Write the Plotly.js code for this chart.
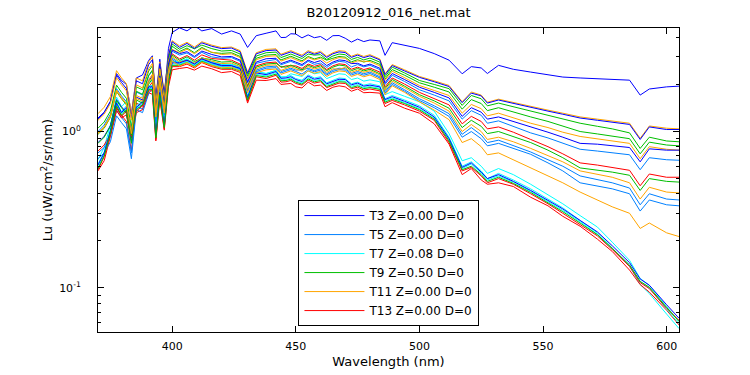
<!DOCTYPE html>
<html><head><meta charset="utf-8">
<script src="https://cdn.plot.ly/plotly-3.0.1.min.js"></script>
<style>html,body{margin:0;padding:0;background:#fff;} #chart{width:750px;height:375px;}</style>
</head><body><div id="chart"></div>
<script>
// Wavelength grid (nm)
const wavelength = [370,372.5,375,377.5,379.5,381.5,383.5,385.5,388,390.5,392,393.4,395,396.8,398.5,400,403,406,409,412,416,420,424,427.5,430.5,434,438,
  442,444,446,448,450,452.5,455,457.5,460,462.5,465,467.5,470,472.5,475,477.5,480,
  484,486.1,489,494,500,506,512,517.3,521,525,527.5,532,538,545,552,558,565,572,578,585,589.3,593,600,605];

// Lu spectra (uW/cm^2/sr/nm)
const T3  = [1.2,1.32,1.55,2.35,2.12,2.0,1.3,2.2,2.3,2.85,3.05,1.45,2.9,1.6,3.4,4.3,4.6,4.4,4.75,4.4,4.55,4.2,4.4,4.2,3.45,4.1,4.25,
  4.4,3.99,4.0,4.22,4.2,3.97,4.15,3.98,4.05,3.83,4.1,4.11,3.95,3.73,3.9,3.76,3.85,
  3.8,3.07,3.7,3.55,3.4,3.15,2.86,2.34,2.6,2.55,2.35,2.65,2.5,2.4,2.32,2.23,2.2,2.17,2.15,2.13,1.71,1.87,1.93,1.95];
const T5  = [1.0,1.10,1.29,1.88,1.69,1.55,1.0,1.79,1.71,2.27,2.44,1.39,2.33,1.51,2.65,3.26,3.08,3.18,2.97,3.21,3.0,2.94,2.97,2.81,2.04,2.73,2.82,
  2.89,2.67,2.73,2.81,2.73,2.63,2.81,2.69,2.74,2.57,2.73,2.81,2.78,2.59,2.68,2.59,2.65,
  2.49,2.0,2.29,2.09,1.85,1.71,1.57,1.20,1.36,1.27,1.13,1.17,1.08,0.98,0.91,0.84,0.77,0.75,0.73,0.71,0.57,0.68,0.66,0.655];
const T7  = [0.66,0.79,1.10,1.66,1.44,1.56,1.08,1.56,1.68,2.1,2.1,1.03,1.94,1.2,2.18,2.8,2.8,2.91,2.74,2.97,2.8,2.69,2.69,2.58,1.68,2.41,2.35,
  2.46,2.23,2.24,2.34,2.3,2.25,2.44,2.34,2.38,2.18,2.26,2.34,2.32,2.15,2.2,2.10,2.14,
  2.08,1.72,1.8,1.68,1.55,1.35,0.97,0.65,0.68,0.60,0.54,0.58,0.53,0.46,0.395,0.345,0.29,0.245,0.196,0.150,0.115,0.104,0.076,0.061];
const T9  = [1.05,1.15,1.35,1.98,1.78,1.63,1.05,1.93,1.85,2.44,2.63,1.53,2.55,1.65,2.95,3.63,3.36,3.54,3.38,3.57,3.39,3.27,3.30,3.13,2.27,3.04,3.19,
  3.22,2.97,3.04,3.13,3.04,2.93,3.13,3.08,3.10,2.89,3.04,3.13,3.10,2.89,2.98,2.87,2.95,
  2.78,2.24,2.58,2.37,2.12,2.0,1.88,1.47,1.70,1.62,1.46,1.52,1.44,1.34,1.27,1.20,1.13,1.08,1.04,0.98,0.78,0.92,0.87,0.86];
const T11 = [1.30,1.43,1.67,2.45,2.20,2.02,1.30,2.20,2.11,2.79,3.0,1.67,2.79,1.77,3.1,3.81,3.53,3.72,3.47,3.75,3.57,3.44,3.47,3.29,2.39,3.19,3.35,
  3.38,3.12,3.19,3.29,3.19,3.08,3.29,3.17,3.26,3.03,3.19,3.29,3.26,3.03,3.13,3.02,3.1,
  2.91,2.34,2.68,2.48,2.25,2.11,1.97,1.55,1.79,1.71,1.54,1.61,1.53,1.44,1.37,1.31,1.24,1.20,1.17,1.13,0.905,1.085,1.05,1.04];
const T13 = [0.75,0.82,0.96,1.41,1.27,1.16,0.75,1.52,1.45,1.92,2.07,1.26,2.10,1.39,2.55,3.14,2.91,3.06,2.86,3.09,2.93,2.9,2.86,2.70,1.96,2.63,2.75,
  2.78,2.57,2.63,2.62,2.63,2.53,2.70,2.61,2.68,2.49,2.63,2.71,2.68,2.50,2.58,2.49,2.55,
  2.40,1.93,2.20,2.01,1.78,1.63,1.48,1.12,1.25,1.16,1.04,1.07,0.99,0.89,0.80,0.72,0.63,0.61,0.59,0.565,0.45,0.535,0.51,0.51];
const T15 = [1.22,1.33,1.56,2.29,2.06,1.88,1.22,2.11,2.02,2.68,2.88,1.63,2.72,1.74,3.05,3.75,3.45,3.66,3.40,3.69,3.51,3.39,3.42,3.23,2.35,3.14,3.29,
  3.32,3.07,3.14,3.23,3.14,3.02,3.23,3.12,3.20,2.98,3.14,3.23,3.20,2.98,3.08,2.97,3.05,
  2.87,2.31,2.64,2.44,2.22,2.08,1.94,1.53,1.76,1.69,1.52,1.59,1.51,1.42,1.35,1.29,1.22,1.18,1.15,1.11,0.89,1.07,1.03,1.03];
const T17 = [0.73,0.79,0.93,1.37,1.23,1.12,0.73,1.45,1.39,1.84,1.98,1.19,1.99,1.31,2.4,2.95,2.74,2.88,2.69,2.90,2.76,2.66,2.62,2.54,1.85,2.47,2.59,
  2.62,2.42,2.47,2.54,2.47,2.48,2.54,2.45,2.52,2.34,2.47,2.54,2.52,2.35,2.42,2.34,2.4,
  2.24,1.80,2.05,1.85,1.62,1.46,1.30,0.96,1.06,0.95,0.85,0.88,0.81,0.74,0.66,0.60,0.52,0.49,0.47,0.435,0.34,0.40,0.37,0.365];
const T19 = [0.62,0.74,1.03,1.55,1.34,1.46,1.01,1.46,1.57,1.96,1.96,0.96,1.81,1.12,2.18,2.8,2.8,2.91,2.74,2.97,2.8,2.69,2.69,2.58,1.68,2.41,2.35,
  2.46,2.23,2.24,2.28,2.18,2.13,2.3,2.20,2.24,2.05,2.13,2.20,2.18,2.02,2.07,1.98,2.02,
  1.96,1.62,1.70,1.59,1.46,1.27,0.92,0.60,0.64,0.56,0.50,0.54,0.49,0.43,0.37,0.325,0.27,0.225,0.18,0.138,0.105,0.092,0.068,0.055];
const T21 = [0.96,1.05,1.23,1.80,1.62,1.48,0.96,1.81,1.73,2.29,2.47,1.46,2.43,1.58,2.85,3.51,3.25,3.42,3.19,3.45,3.2,3.16,3.19,3.02,2.19,2.94,3.08,
  3.11,2.87,2.94,3.03,2.94,2.83,3.02,2.91,2.99,2.86,2.94,3.02,2.99,2.79,2.88,2.78,2.85,
  2.69,2.17,2.49,2.29,2.05,1.92,1.79,1.39,1.60,1.51,1.36,1.42,1.33,1.24,1.16,1.08,1.0,0.965,0.935,0.90,0.72,0.855,0.82,0.81];
const T23 = [1.18,1.29,1.51,2.21,1.99,1.82,1.18,1.99,1.90,2.52,2.72,1.51,2.52,1.60,2.8,3.35,3.19,3.36,3.14,3.39,3.22,3.11,3.14,2.97,2.16,2.88,3.02,
  3.05,2.82,2.88,2.97,2.88,2.78,2.97,2.87,2.94,2.74,2.88,2.97,2.94,2.74,2.83,2.8,2.8,
  2.63,2.12,2.43,2.22,1.97,1.83,1.70,1.31,1.49,1.40,1.26,1.31,1.22,1.13,1.06,0.99,0.93,0.90,0.87,0.84,0.67,0.80,0.77,0.76];
const T25 = [0.56,0.65,0.93,1.36,1.22,1.28,0.91,1.32,1.38,1.77,1.73,0.87,1.6,1.02,1.93,2.48,2.53,2.57,2.47,2.62,2.52,2.38,2.42,2.28,1.52,2.13,2.12,
  2.18,2.0,2.02,2.03,1.93,1.90,2.07,1.96,1.98,1.83,1.92,1.96,1.93,1.81,1.87,1.77,1.78,
  1.76,1.44,1.53,1.41,1.31,1.12,0.83,0.53,0.58,0.49,0.46,0.47,0.445,0.38,0.335,0.287,0.248,0.205,0.171,0.13,0.105,0.094,0.072,0.058];
const T27 = [0.85,0.93,1.09,1.60,1.44,1.32,0.85,1.66,1.59,2.10,2.27,1.36,2.26,1.48,2.7,3.32,3.15,3.24,3.02,3.27,3.11,3.0,3.02,2.86,2.08,2.78,2.92,
  2.94,2.72,2.78,2.86,2.78,2.68,2.86,2.76,2.84,2.64,2.78,2.87,2.84,2.72,2.73,2.63,2.7,
  2.54,2.05,2.35,2.15,1.92,1.78,1.64,1.25,1.42,1.33,1.20,1.24,1.16,1.08,0.99,0.92,0.84,0.83,0.81,0.79,0.64,0.775,0.76,0.76];
const T29 = [0.67,0.73,0.86,1.26,1.14,1.04,0.67,1.38,1.32,1.75,1.88,1.16,1.93,1.28,2.35,2.89,2.68,2.82,2.63,2.84,2.70,2.61,2.63,2.49,1.81,2.42,2.54,
  2.56,2.37,2.42,2.49,2.42,2.33,2.49,2.41,2.47,2.30,2.42,2.49,2.47,2.30,2.37,2.29,2.35,
  2.20,1.76,2.0,1.81,1.58,1.42,1.25,0.92,1.0,0.90,0.81,0.84,0.78,0.715,0.63,0.56,0.47,0.45,0.43,0.40,0.31,0.365,0.34,0.335];
const T31 = [0.59,0.71,0.99,1.49,1.30,1.40,0.97,1.40,1.51,1.89,1.89,0.93,1.75,1.08,2.1,2.7,2.7,2.81,2.65,2.86,2.7,2.59,2.59,2.48,1.62,2.32,2.27,
  2.38,2.16,2.16,2.19,2.1,2.05,2.21,2.12,2.16,1.98,2.05,2.12,2.1,1.95,2.0,1.91,1.94,
  1.89,1.57,1.64,1.53,1.40,1.22,0.89,0.58,0.62,0.54,0.49,0.52,0.475,0.415,0.356,0.313,0.265,0.22,0.178,0.14,0.11,0.1,0.073,0.059];
const T33 = [0.84,0.92,1.08,1.58,1.42,1.30,0.84,1.59,1.52,2.01,2.17,1.28,2.13,1.39,2.5,3.08,2.85,3.0,2.8,2.95,2.88,2.78,2.8,2.65,1.93,2.58,2.7,
  2.73,2.6,2.58,2.66,2.58,2.48,2.65,2.56,2.63,2.45,2.58,2.66,2.63,2.45,2.53,2.44,2.5,
  2.34,1.88,2.15,1.95,1.72,1.57,1.41,1.06,1.18,1.08,0.97,1.0,0.93,0.85,0.76,0.68,0.585,0.565,0.55,0.525,0.42,0.50,0.48,0.475];
const T35 = [0.98,1.07,1.26,1.84,1.65,1.51,0.98,1.70,1.63,2.15,2.32,1.32,2.21,1.40,2.45,3.01,2.79,2.85,2.74,2.96,2.82,2.72,2.74,2.60,1.89,2.52,2.65,
  2.67,2.46,2.52,2.60,2.52,2.43,2.60,2.51,2.57,2.39,2.52,2.5,2.57,2.39,2.47,2.39,2.45,
  2.30,1.84,2.10,1.91,1.68,1.52,1.35,1.0,1.11,1.0,0.89,0.92,0.86,0.78,0.70,0.64,0.56,0.53,0.51,0.47,0.37,0.44,0.41,0.405];
const T37 = [0.57,0.69,0.96,1.43,1.25,1.35,0.94,1.35,1.46,1.82,1.82,0.89,1.68,1.04,2.03,2.6,2.6,2.7,2.55,2.76,2.6,2.5,2.5,2.39,1.56,2.24,2.18,
  2.29,2.07,2.08,2.12,2.03,1.98,2.13,2.04,2.08,1.91,1.98,2.04,2.03,1.88,1.92,1.84,1.87,
  1.82,1.51,1.58,1.48,1.35,1.18,0.85,0.56,0.59,0.52,0.47,0.5,0.46,0.40,0.345,0.30,0.255,0.215,0.176,0.137,0.108,0.099,0.074,0.062];
const T39 = [0.61,0.73,1.01,1.52,1.32,1.43,0.99,1.43,1.54,1.93,1.93,0.95,1.78,1.1,2.15,2.75,2.75,2.86,2.7,2.92,2.75,2.64,2.64,2.53,1.65,2.37,2.31,
  2.42,2.19,2.2,2.24,2.15,2.09,2.26,2.16,2.2,2.02,2.09,2.16,2.15,1.99,2.04,1.95,1.98,
  1.93,1.6,1.67,1.56,1.43,1.24,0.9,0.59,0.63,0.55,0.5,0.53,0.48,0.42,0.363,0.32,0.27,0.228,0.186,0.145,0.114,0.104,0.078,0.064];
const T41 = [0.58,0.70,0.98,1.46,1.27,1.38,0.95,1.38,1.48,1.86,1.86,0.91,1.72,1.06,2.07,2.65,2.65,2.76,2.6,2.81,2.65,2.54,2.54,2.44,1.59,2.28,2.23,
  2.33,2.11,2.12,2.16,2.07,2.01,2.17,2.08,2.12,1.94,2.01,2.08,2.07,1.91,1.96,1.88,1.91,
  1.86,1.54,1.61,1.51,1.38,1.20,0.87,0.57,0.60,0.53,0.48,0.51,0.466,0.408,0.35,0.307,0.26,0.219,0.179,0.14,0.11,0.101,0.075,0.061];
const T43 = [0.97,1.06,1.24,1.82,1.63,1.50,0.97,1.63,1.56,2.07,2.23,1.24,2.07,1.31,2.3,2.83,2.62,2.76,2.58,2.78,2.65,2.55,2.58,2.44,1.77,2.37,2.48,
  2.51,2.32,2.37,2.44,2.37,2.28,2.44,2.36,2.42,2.25,2.37,2.44,2.42,2.25,2.32,2.24,2.3,
  2.15,1.72,1.96,1.78,1.55,1.37,1.19,0.85,0.90,0.80,0.71,0.73,0.66,0.59,0.52,0.47,0.41,0.365,0.33,0.30,0.24,0.26,0.225,0.213];

const seriesData = [T3,T5,T7,T9,T11,T13,T15,T17,T19,T21,T23,T25,T27,T29,T31,T33,T35,T37,T39,T41,T43];
const seriesNames = ['T3','T5','T7','T9','T11','T13','T15','T17','T19','T21','T23','T25','T27','T29','T31','T33','T35','T37','T39','T41','T43'];
const legendLabels = ['T3 Z=0.00 D=0','T5 Z=0.00 D=0','T7 Z=0.08 D=0','T9 Z=0.50 D=0','T11 Z=0.00 D=0','T13 Z=0.00 D=0'];
const yTickVals = [0.1, 1];
const yTickText = ['10<sup>-1</sup>','10<sup>0</sup>'];
const yMinorVals = [0.06,0.07,0.08,0.09,0.2,0.3,0.4,0.5,0.6,0.7,0.8,0.9,2,3,4];
const xTickVals = [400,450,500,550,600];

// line styles (colour of each series)
const B = '#0000FF', LB = '#0080FF', C = '#00FFFF', G = '#00BF00', O = '#FFA500', R = '#FF0000';
const seriesColors = [B,LB,C,G,O,R, B,LB,C,G,O,R, B,LB,C,G,O,R, B,G,O];

const traces = seriesData.map((y, i) => ({
  x: wavelength, y: y, type: 'scatter', mode: 'lines',
  name: i < legendLabels.length ? legendLabels[i] : seriesNames[i],
  showlegend: i < legendLabels.length,
  line: {color: seriesColors[i], width: 1}
}));

const layout = {
  width: 750, height: 375,
  margin: {l: 98, r: 71, t: 28, b: 43},
  paper_bgcolor: '#fff', plot_bgcolor: '#fff',
  font: {family: 'DejaVu Sans, sans-serif', size: 11, color: '#000'},
  title: {text: 'B20120912_016_net.mat', font: {size: 13, color: '#000'}, x: 0.5, xref: 'paper', xanchor: 'center', y: 0.968, yref: 'container', yanchor: 'middle'},
  xaxis: {range: [370, 605], tickmode: 'array', tickvals: xTickVals, ticks: 'inside', ticklen: 6, tickcolor: '#000',
          showline: true, linecolor: '#000', linewidth: 1, mirror: 'ticks', showgrid: false, zeroline: false,
          ticklabelstandoff: 4,
          title: {text: 'Wavelength (nm)', font: {size: 13}, standoff: 4}},
  yaxis: {type: 'log', range: [-1.282, 0.662], tickmode: 'array', tickvals: yTickVals, ticktext: yTickText,
          ticks: 'inside', ticklen: 6, tickcolor: '#000',
          minor: {tickmode: 'array', tickvals: yMinorVals, ticks: 'inside', ticklen: 3, tickcolor: '#000', showgrid: false},
          showline: true, linecolor: '#000', linewidth: 1, mirror: 'ticks', showgrid: false, zeroline: false,
          ticklabelstandoff: 14,
          title: {text: 'Lu (uW/cm<sup>2</sup>/sr/nm)', font: {size: 13}, standoff: 3}},
  legend: {x: 0.345, y: 0.434, xanchor: 'left', yanchor: 'top', bgcolor: '#fff', bordercolor: '#000', borderwidth: 1,
           font: {size: 12, color: '#000'}, itemwidth: 60, tracegroupgap: 0},
  showlegend: true
};

Plotly.newPlot('chart', traces, layout, {staticPlot: true, displayModeBar: false});
</script>
</body></html>
